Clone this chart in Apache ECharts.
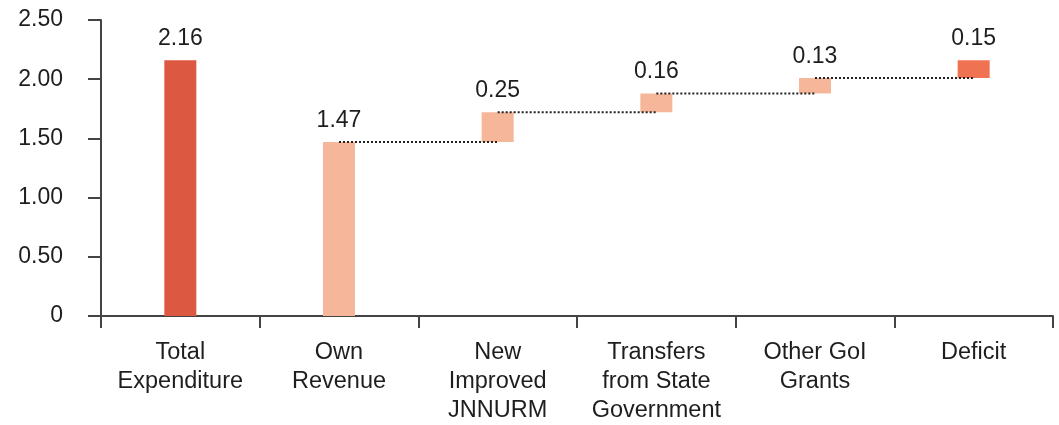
<!DOCTYPE html>
<html>
<head>
<meta charset="utf-8">
<script src="https://cdn.jsdelivr.net/npm/echarts@6/dist/echarts.min.js"></script>
<style>html,body{margin:0;padding:0;background:#fff}#c{width:1059px;height:425px}</style>
</head>
<body>
<div id="c"></div>
<script>
const categories = ['Total\nExpenditure', 'Own\nRevenue', 'New\nImproved\nJNNURM', 'Transfers\nfrom State\nGovernment', 'Other GoI\nGrants', 'Deficit'];
const values = [2.16, 1.47, 0.25, 0.16, 0.13, 0.15];
const barColors = ['#DD5841', '#F6B699', '#F6B699', '#F6B699', '#F6B699', '#EF7352'];
const yTicks = [0, 0.5, 1, 1.5, 2, 2.5];

// waterfall bases: first two bars start at zero, the rest stack on the running total
const bases = [];
let running = 0;
values.forEach((v, i) => {
  if (i === 0) { bases.push(0); return; }
  if (i === 1) { bases.push(0); running = v; return; }
  bases.push(running);
  running += v;
});
// connector levels from each bar top (index 1..4) to next bar
const connectors = [];
for (let i = 1; i < values.length - 1; i++) {
  connectors.push([i, +(bases[i] + values[i]).toFixed(2)]);
}

const font = 'Liberation Sans, Arial, sans-serif';
const textColor = '#1e1e1e';
const chart = echarts.init(document.getElementById('c'), null, {renderer: 'canvas'});
chart.setOption({
  animation: false,
  grid: {left: 101, right: 6, top: 20, bottom: 109},
  xAxis: {
    type: 'category',
    data: categories,
    boundaryGap: true,
    axisLine: {lineStyle: {color: '#444', width: 2}},
    axisTick: {show: true, length: 12, lineStyle: {color: '#444', width: 2}},
    axisLabel: {color: textColor, fontSize: 23.5, fontFamily: font, lineHeight: 29, margin: 22, interval: 0}
  },
  yAxis: {
    type: 'value',
    min: yTicks[0], max: yTicks[yTicks.length - 1], interval: 0.5,
    axisLine: {show: true, lineStyle: {color: '#444', width: 2}},
    axisTick: {show: true, length: 13, lineStyle: {color: '#444', width: 2}},
    splitLine: {show: false},
    axisLabel: {color: textColor, fontSize: 23, fontFamily: font, margin: 38,
      formatter: v => v === 0 ? '0' : v.toFixed(2)}
  },
  series: [
    {
      type: 'bar', stack: 'w', barWidth: 32,
      itemStyle: {color: 'transparent'},
      data: bases,
      silent: true
    },
    {
      type: 'bar', stack: 'w', barWidth: 32,
      data: values.map((v, i) => ({value: v, itemStyle: {color: barColors[i]}})),
      label: {show: true, position: 'top', distance: 10, color: textColor, fontSize: 23, fontFamily: font,
        formatter: p => p.value.toFixed(2)}
    },
    {
      type: 'custom',
      z: 10,
      data: connectors,
      renderItem: (params, api) => {
        const i = api.value(0), lv = api.value(1);
        const p1 = api.coord([i, lv]);
        const p2 = api.coord([i + 1, lv]);
        return {
          type: 'line',
          shape: {x1: p1[0], y1: p1[1], x2: p2[0], y2: p2[1]},
          style: {stroke: '#222', lineWidth: 2, lineDash: [2, 2]}
        };
      }
    }
  ]
});
</script>
</body>
</html>
